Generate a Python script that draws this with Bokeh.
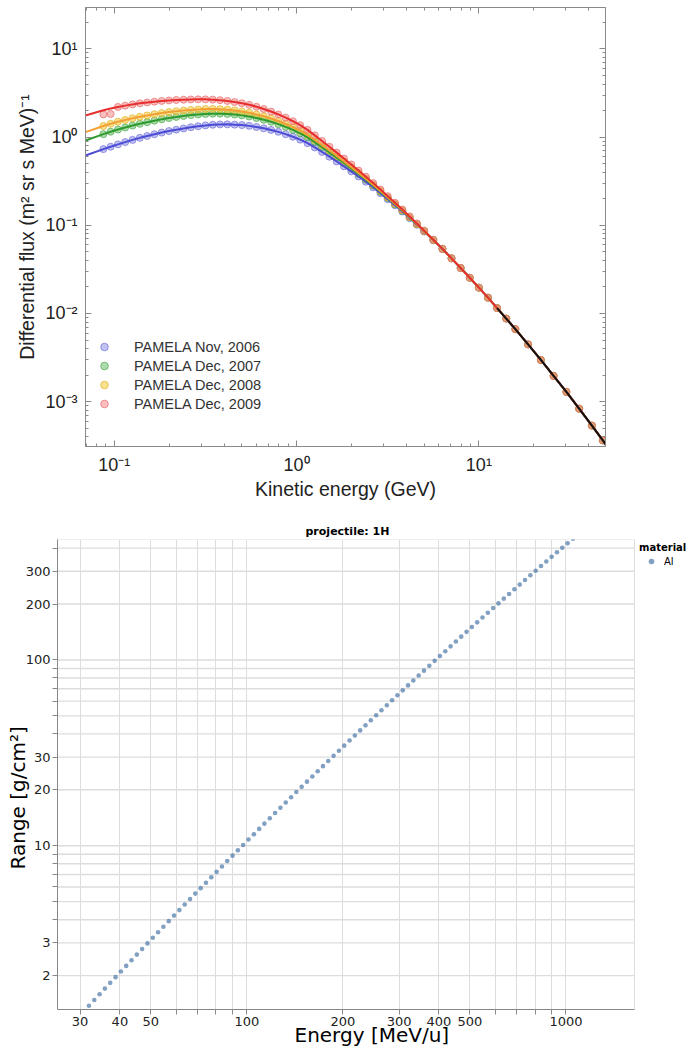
import math
from bokeh.plotting import figure
from bokeh.models import Range1d, FixedTicker, LogAxis, Legend, LegendItem, Title
from bokeh.embed import file_html
from bokeh.resources import INLINE

# ---------------- Top chart: PAMELA proton spectra ----------------
pamela_energy_gev = [0.0871, 0.0955, 0.1047, 0.1148, 0.1259, 0.1380, 0.1514, 0.1660, 0.1820, 0.1995,
                     0.2188, 0.2399, 0.2630, 0.2884, 0.3162, 0.3467, 0.3802, 0.4169, 0.4571, 0.5012,
                     0.5495, 0.6026, 0.6607, 0.7244, 0.7943, 0.8710, 0.9550, 1.047, 1.148, 1.259,
                     1.380, 1.514, 1.660, 1.820, 1.995, 2.188, 2.399, 2.630, 2.884, 3.162,
                     3.467, 3.802, 4.169, 4.571, 5.012, 5.623, 6.310, 7.079, 7.943, 8.913,
                     10.00, 11.22, 12.59, 14.13, 15.85, 18.62, 21.88, 25.70, 30.20, 35.48,
                     41.69, 47.86]

high_energy_flux = [0.0540, 0.0422, 0.0328, 0.0254, 0.0196, 0.0151, 0.0115, 0.00875, 0.00664, 0.00446,
                    0.00297, 0.00196, 0.00129, 0.000832, 0.000535, 0.000364]

flux_nov_2006 = [0.731, 0.778, 0.827, 0.878, 0.930, 0.981, 1.029, 1.078, 1.126, 1.171,
                 1.215, 1.254, 1.294, 1.327, 1.358, 1.380, 1.393, 1.395, 1.385, 1.369,
                 1.341, 1.302, 1.257, 1.206, 1.147, 1.080, 1.010, 0.936, 0.854, 0.763,
                 0.678, 0.600, 0.530, 0.466, 0.409, 0.358, 0.312, 0.270, 0.2315, 0.198,
                 0.169, 0.1435, 0.121, 0.1017, 0.0851, 0.0678] + high_energy_flux
flux_dec_2007 = [1.081, 1.151, 1.219, 1.285, 1.352, 1.416, 1.476, 1.535, 1.592, 1.644,
                 1.694, 1.738, 1.778, 1.807, 1.832, 1.845, 1.845, 1.830, 1.801, 1.764,
                 1.712, 1.646, 1.574, 1.493, 1.403, 1.306, 1.208, 1.105, 0.994, 0.876,
                 0.768, 0.671, 0.585, 0.508, 0.441, 0.381, 0.329, 0.282, 0.240, 0.204,
                 0.173, 0.146, 0.1225, 0.1027, 0.0857, 0.0681] + high_energy_flux
flux_dec_2008 = [1.337, 1.416, 1.495, 1.565, 1.635, 1.700, 1.760, 1.818, 1.873, 1.921,
                 1.966, 2.002, 2.032, 2.056, 2.080, 2.084, 2.075, 2.049, 2.007, 1.957,
                 1.890, 1.809, 1.722, 1.626, 1.521, 1.409, 1.297, 1.182, 1.058, 0.928,
                 0.810, 0.704, 0.611, 0.528, 0.456, 0.393, 0.337, 0.288, 0.245, 0.207,
                 0.175, 0.148, 0.124, 0.103, 0.0861, 0.0682] + high_energy_flux
flux_dec_2009 = [1.81, 1.83, 2.198, 2.275, 2.350, 2.415, 2.472, 2.523, 2.570, 2.606,
                 2.636, 2.655, 2.673, 2.679, 2.679, 2.661, 2.624, 2.570, 2.500, 2.421,
                 2.323, 2.208, 2.084, 1.950, 1.807, 1.660, 1.514, 1.365, 1.208, 1.047,
                 0.904, 0.776, 0.667, 0.571, 0.489, 0.417, 0.355, 0.301, 0.254, 0.214,
                 0.180, 0.151, 0.126, 0.105, 0.0869, 0.0686] + high_energy_flux
fit_dec_2009_first_two = [2.014, 2.109]

fit_energy_ends = [0.0695, 50.0]
fit_flux_left = [0.618, 0.914, 1.138, 1.762]
fit_flux_right = 3.19e-4

black_fit_energy = [12.59, 14.13, 15.85, 18.62, 21.88, 25.70, 30.20, 35.48, 41.69, 47.86, 50.0]
black_fit_flux = [0.0115, 0.00875, 0.00664, 0.00446, 0.00297, 0.00196, 0.00129, 0.000832, 0.000535, 0.000364, 0.000319]

series_labels = ["PAMELA Nov, 2006", "PAMELA Dec, 2007", "PAMELA Dec, 2008", "PAMELA Dec, 2009"]
point_fill = ["#8f8fe6", "#6cc06c", "#f2cc3a", "#f28a8a"]
point_edge = ["#7070d8", "#4aa84a", "#e0b020", "#e86a6a"]
line_colors = ["#4b4bd6", "#2e9a2e", "#f2a035", "#e62e2e"]

top_x_major = [0.1, 1, 10]
top_x_major_labels = ["10\u207b\u00b9", "10\u2070", "10\u00b9"]
top_x_minor = [0.07, 0.08, 0.09, 0.2, 0.3, 0.4, 0.5, 0.6, 0.7, 0.8, 0.9,
               2, 3, 4, 5, 6, 7, 8, 9, 20, 30, 40]
top_y_major = [0.001, 0.01, 0.1, 1, 10]
top_y_major_labels = ["10\u207b\u00b3", "10\u207b\u00b2", "10\u207b\u00b9", "10\u2070", "10\u00b9"]
top_y_minor = [0.0004, 0.0005, 0.0006, 0.0007, 0.0008, 0.0009,
               0.002, 0.003, 0.004, 0.005, 0.006, 0.007, 0.008, 0.009,
               0.02, 0.03, 0.04, 0.05, 0.06, 0.07, 0.08, 0.09,
               0.2, 0.3, 0.4, 0.5, 0.6, 0.7, 0.8, 0.9,
               2, 3, 4, 5, 6, 7, 8, 9, 20]

# ---------------- Bottom chart: proton range in Al ----------------
energy_mev_u = [32.0, 33.25, 34.55, 35.90, 37.31, 38.77, 40.28, 41.86, 43.50, 45.20,
                46.97, 48.81, 50.72, 52.70, 54.76, 56.91, 59.13, 61.44, 63.85, 66.35,
                68.94, 71.64, 74.44, 77.35, 80.38, 83.53, 86.79, 90.19, 93.72, 97.38,
                101.2, 105.2, 109.3, 113.5, 118.0, 122.6, 127.4, 132.4, 137.6, 142.9,
                148.5, 154.3, 160.4, 166.7, 173.2, 179.9, 187.0, 194.3, 201.9, 209.8,
                218.0, 226.5, 235.4, 244.6, 254.2, 264.1, 274.5, 285.2, 296.4, 308.0,
                320.0, 332.5, 345.5, 359.0, 373.1, 387.7, 402.8, 418.6, 435.0, 452.0,
                469.7, 488.1, 507.2, 527.0, 547.6, 569.1, 591.3, 614.4, 638.5, 663.5,
                689.4, 716.4, 744.4, 773.5, 803.8, 835.3, 867.9, 901.9, 937.2, 973.8,
                1012.0, 1052.0]
range_g_cm2 = [1.377, 1.479, 1.588, 1.703, 1.828, 1.962, 2.104, 2.256, 2.420, 2.595,
               2.782, 2.982, 3.195, 3.423, 3.667, 3.928, 4.207, 4.505, 4.825, 5.162,
               5.525, 5.911, 6.325, 6.767, 7.236, 7.737, 8.274, 8.845, 9.454, 10.10,
               10.80, 11.53, 12.32, 13.15, 14.05, 15.00, 16.01, 17.08, 18.23, 19.45,
               20.75, 22.13, 23.60, 25.16, 26.82, 28.59, 30.46, 32.46, 34.58, 36.83,
               39.23, 41.77, 44.46, 47.33, 50.38, 53.60, 57.02, 60.66, 64.51, 68.60,
               72.97, 77.53, 82.41, 87.60, 93.07, 98.88, 105.0, 111.5, 118.4, 125.7,
               133.5, 141.7, 150.3, 159.4, 169.2, 179.4, 190.3, 201.7, 213.8, 226.6,
               240.2, 254.4, 269.6, 285.6, 302.4, 320.2, 339.0, 358.8, 379.7, 401.8,
               425.2, 449.7]
material_label = "Al"

bot_x_ticks = [30, 40, 50, 60, 70, 80, 90, 100, 200, 300, 400, 500, 600, 700, 800, 900, 1000]
bot_x_labels = ["30", "40", "50", "", "", "", "", "100", "200", "300", "400", "500", "", "", "", "", "1000"]
bot_y_ticks = [2, 3, 4, 5, 6, 7, 8, 9, 10, 20, 30, 40, 50, 60, 70, 80, 90, 100, 200, 300, 400]
bot_y_labels = ["2", "3", "", "", "", "", "", "", "10", "20", "30", "", "", "", "", "", "", "100", "200", "300", ""]

TOP_FONT = "Liberation Sans"
BOT_FONT = "DejaVu Sans"

# ================= top figure =================
p1 = figure(width=687, height=505, x_axis_type="log", y_axis_type="log",
            x_range=Range1d(0.0695, 49.5), y_range=Range1d(3.1e-4, 29.5),
            output_backend="svg", toolbar_location=None,
            min_border_left=85, min_border_right=82, min_border_top=7, min_border_bottom=59)
p1.grid.visible = False
p1.outline_line_color = "#8a8a8a"
p1.outline_line_width = 1

xt = FixedTicker(ticks=top_x_major, minor_ticks=top_x_minor)
yt = FixedTicker(ticks=top_y_major, minor_ticks=top_y_minor)

for ax, tk, labs, vals in ((p1.xaxis[0], xt, top_x_major_labels, top_x_major),
                           (p1.yaxis[0], yt, top_y_major_labels, top_y_major)):
    ax.ticker = tk
    ax.major_label_overrides = dict(zip(vals, labs))
    ax.major_tick_in = 6
    ax.major_tick_out = 0
    ax.minor_tick_in = 3
    ax.minor_tick_out = 0
    ax.axis_line_color = "#8a8a8a"
    ax.major_tick_line_color = "#8a8a8a"
    ax.minor_tick_line_color = "#8a8a8a"
    ax.major_label_text_font = TOP_FONT
    ax.major_label_text_font_size = "18px"
    ax.major_label_text_color = "#222222"
    ax.major_label_standoff = 8
    ax.axis_label_text_font = TOP_FONT
    ax.axis_label_text_font_size = "19.5px"
    ax.axis_label_text_font_style = "normal"
    ax.axis_label_text_color = "#222222"

p1.xaxis[0].axis_label = "Kinetic energy (GeV)"
p1.xaxis[0].axis_label_standoff = 0
p1.yaxis[0].axis_label = "Differential flux (m\u00b2 sr s MeV)\u207b\u00b9"
p1.yaxis[0].axis_label_standoff = 4

for place, tk in (("above", xt), ("right", yt)):
    mirror = LogAxis(ticker=tk, major_label_text_font_size="1px", major_label_text_alpha=0,
                     major_label_standoff=0,
                     major_tick_in=6, major_tick_out=0, minor_tick_in=3, minor_tick_out=0,
                     axis_line_color="#8a8a8a", major_tick_line_color="#8a8a8a",
                     minor_tick_line_color="#8a8a8a")
    p1.add_layout(mirror, place)

series_flux = [flux_nov_2006, flux_dec_2007, flux_dec_2008, flux_dec_2009]
point_renderers = []
for flux, fc, ec in zip(series_flux, point_fill, point_edge):
    r = p1.scatter(pamela_energy_gev, flux, size=7, fill_color=fc, fill_alpha=0.55,
                   line_color=ec, line_alpha=0.7, line_width=1)
    point_renderers.append(r)

for i, (flux, lc) in enumerate(zip(series_flux, line_colors)):
    body = list(flux)
    if i == 3:
        body[:2] = fit_dec_2009_first_two
    xs = [fit_energy_ends[0]] + pamela_energy_gev + [fit_energy_ends[1]]
    ys = [fit_flux_left[i]] + body + [fit_flux_right]
    p1.line(xs, ys, line_color=lc, line_width=2)

p1.line(black_fit_energy, black_fit_flux, line_color="#111111", line_width=2)

leg1 = Legend(items=[LegendItem(label=lab, renderers=[r]) for lab, r in zip(series_labels, point_renderers)],
              location=(9, 33), border_line_color=None, background_fill_alpha=0,
              label_text_font=TOP_FONT, label_text_font_size="14.5px", label_text_color="#333333",
              glyph_width=20, glyph_height=19, label_height=19, spacing=0, padding=0, margin=0,
              label_standoff=20)
p1.add_layout(leg1)

# ================= bottom figure =================
# the chart area spans 25.5 .. 1640 MeV/u; the frame continues to the page edge to hold the legend
AREA_X = (25.5, 1640.0)
AREA_Y = (1.314, 445.0)
FRAME_X_END = 2404.0

p2 = figure(width=687, height=543, x_axis_type="log", y_axis_type="log",
            x_range=Range1d(AREA_X[0], FRAME_X_END), y_range=Range1d(AREA_Y[0], AREA_Y[1]),
            output_backend="svg", toolbar_location=None,
            min_border_left=57, min_border_right=0, min_border_top=34, min_border_bottom=39)
p2.outline_line_color = None
p2.add_layout(Title(text="projectile: 1H", align="left", offset=248, standoff=3,
                    text_font=BOT_FONT, text_font_style="bold", text_font_size="11px",
                    text_color="#000000"), "above")

for ax, ticks, labels in ((p2.xaxis[0], bot_x_ticks, bot_x_labels), (p2.yaxis[0], bot_y_ticks, bot_y_labels)):
    ax.ticker = FixedTicker(ticks=ticks, minor_ticks=[])
    ax.major_label_overrides = dict(zip(ticks, labels))
    ax.axis_line_color = "#888888"
    ax.major_tick_line_color = "#888888"
    ax.major_tick_out = 5
    ax.major_tick_in = 0
    ax.minor_tick_out = 0
    ax.minor_tick_in = 0
    ax.major_label_text_font = BOT_FONT
    ax.major_label_text_font_size = "13px"
    ax.major_label_text_color = "#222222"
    ax.major_label_standoff = 2
p2.xaxis[0].bounds = AREA_X

p2.xgrid.grid_line_color = "#dddddd"
p2.xgrid.grid_line_width = 1
p2.ygrid.visible = False

# horizontal grid lines and the view border, limited to the chart area
p2.multi_line(xs=[list(AREA_X) for _ in bot_y_ticks], ys=[[t, t] for t in bot_y_ticks],
              line_color="#dddddd", line_width=1.4)
p2.line([AREA_X[0], AREA_X[1], AREA_X[1]], [AREA_Y[1], AREA_Y[1], AREA_Y[0]],
        line_color="#dddddd", line_width=1)

r2 = p2.scatter(energy_mev_u, range_g_cm2, size=4.6, fill_color="#4c78a8", fill_alpha=0.7, line_color=None)

x_title = Title(text="Energy [MeV/u]", align="left", offset=237, standoff=-15,
                text_font=BOT_FONT, text_font_size="20px", text_font_style="normal",
                text_color="#000000")
p2.add_layout(x_title, "below")
y_title = Title(text="Range [g/cm\u00b2]", align="left", offset=140, standoff=-14,
                text_font=BOT_FONT, text_font_size="20px", text_font_style="normal",
                text_color="#000000")
p2.add_layout(y_title, "left")

leg2 = Legend(items=[LegendItem(label=material_label, renderers=[r2])], title="material",
              location=(582, 441), border_line_color=None, background_fill_alpha=0,
              title_text_font=BOT_FONT, title_text_font_style="bold", title_text_font_size="10px",
              title_text_color="#000000", title_standoff=1,
              label_text_font=BOT_FONT, label_text_font_size="10px", label_text_color="#000000",
              glyph_width=24, glyph_height=14, label_height=14, label_standoff=1,
              spacing=0, padding=0, margin=0)
p2.add_layout(leg2)

open("out.html", "w").write(file_html([p1, p2], INLINE))
